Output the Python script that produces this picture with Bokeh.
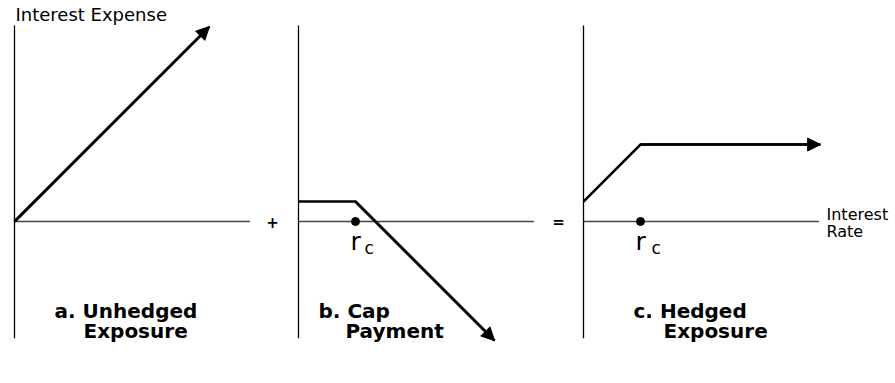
from bokeh.plotting import figure
from bokeh.layouts import row
from bokeh.models import Range1d, Arrow, NormalHead
from bokeh.core.properties import value
from bokeh.embed import file_html
from bokeh.resources import INLINE

# ---- data (diagram units: interest rate vs. amount; r_c = 1) ----
r_c = 1.0
rate_a = [0.0, 3.42]
expense_a = [0.0, 3.42]          # unhedged exposure
rate_b = [0.0, 1.0, 3.44]
payment_b = [0.35, 0.35, -2.09]  # cap payment
rate_c = [0.0, 1.0, 4.16]
hedged_c = [0.35, 1.35, 1.35]    # hedged exposure
axis_top, axis_bottom, axis_right = 3.44, -2.05, 4.13
panel_titles = [["a. Unhedged", "Exposure"], ["b. Cap", "Payment"], ["c. Hedged", "Exposure"]]
operators = ["+", "="]

# ---- layout ----
PX = 57.0  # pixels per unit
H = 375
Y0 = 221   # zero line from top
T = 6      # text baseline correction (px)
REG = value("DejaVu Sans")
BOLD = value("DejaVu Sans")


def make_panel(width, left_px):
    xs = -left_px / PX
    p = figure(width=width, height=H, output_backend="svg", toolbar_location=None,
               x_range=Range1d(xs, xs + width / PX),
               y_range=Range1d(Y0 / PX - H / PX, Y0 / PX),
               min_border=0, x_axis_type=None, y_axis_type=None)
    p.grid.visible = False
    p.outline_line_color = None
    p.background_fill_color = "white"
    p.border_fill_color = "white"
    # axes
    p.line([0, 0], [axis_bottom, axis_top], line_color="black", line_width=1.3)
    p.line([0, axis_right], [0, 0], line_color="#444444", line_width=1.3)
    return p


def curve(p, xs, ys):
    p.line(xs, ys, line_color="black", line_width=2.6, line_join="miter")
    p.add_layout(Arrow(end=NormalHead(size=13, fill_color="black", line_color="black", line_width=1),
                       x_start=xs[-2], y_start=ys[-2], x_end=xs[-1], y_end=ys[-1],
                       line_color="black", line_width=2.6))


def txt(p, x_px, y_px, s, size, bold=False, align="left"):
    p.text(x=[x_px / PX], y=[(y_px + T) / PX], text=[s], text_font=BOLD if bold else REG,
           text_font_style="bold" if bold else "normal", text_font_size=size,
           text_align=align, text_baseline="alphabetic", text_color="black")


def title(p, lines, x1, x2):
    txt(p, x1, -95, lines[0], "20px", bold=True)
    txt(p, x2, -115, lines[1], "20px", bold=True)


def rc_mark(p, dx):
    p.scatter([r_c], [0], size=8, color="black")
    txt(p, r_c * PX - 5, -26, "r", "25px")
    txt(p, r_c * PX + dx, -32, "c", "17px")


pa = make_panel(293, 14)
curve(pa, rate_a, expense_a)
txt(pa, 1, 201, "Interest Expense", "18px")
pa.text(x=[258 / PX], y=[0], text=[operators[0]], text_font=BOLD, text_font_style="bold",
        text_font_size="15px", text_align="center", text_baseline="middle")
title(pa, panel_titles[0], 40, 69)

pb = make_panel(285, 5)
curve(pb, rate_b, payment_b)
rc_mark(pb, 9)
pb.text(x=[260 / PX], y=[0], text=[operators[1]], text_font=BOLD, text_font_style="bold",
        text_font_size="15px", text_align="center", text_baseline="middle")
title(pb, panel_titles[1], 20, 47)

pc = make_panel(315, 5)
curve(pc, rate_c, hedged_c)
rc_mark(pc, 11)
txt(pc, 243, 1, "Interest", "16px")
txt(pc, 243, -16, "Rate", "16px")
title(pc, panel_titles[2], 50, 80)

layout = row(pa, pb, pc)
open("out.html", "w").write(file_html(layout, INLINE))
